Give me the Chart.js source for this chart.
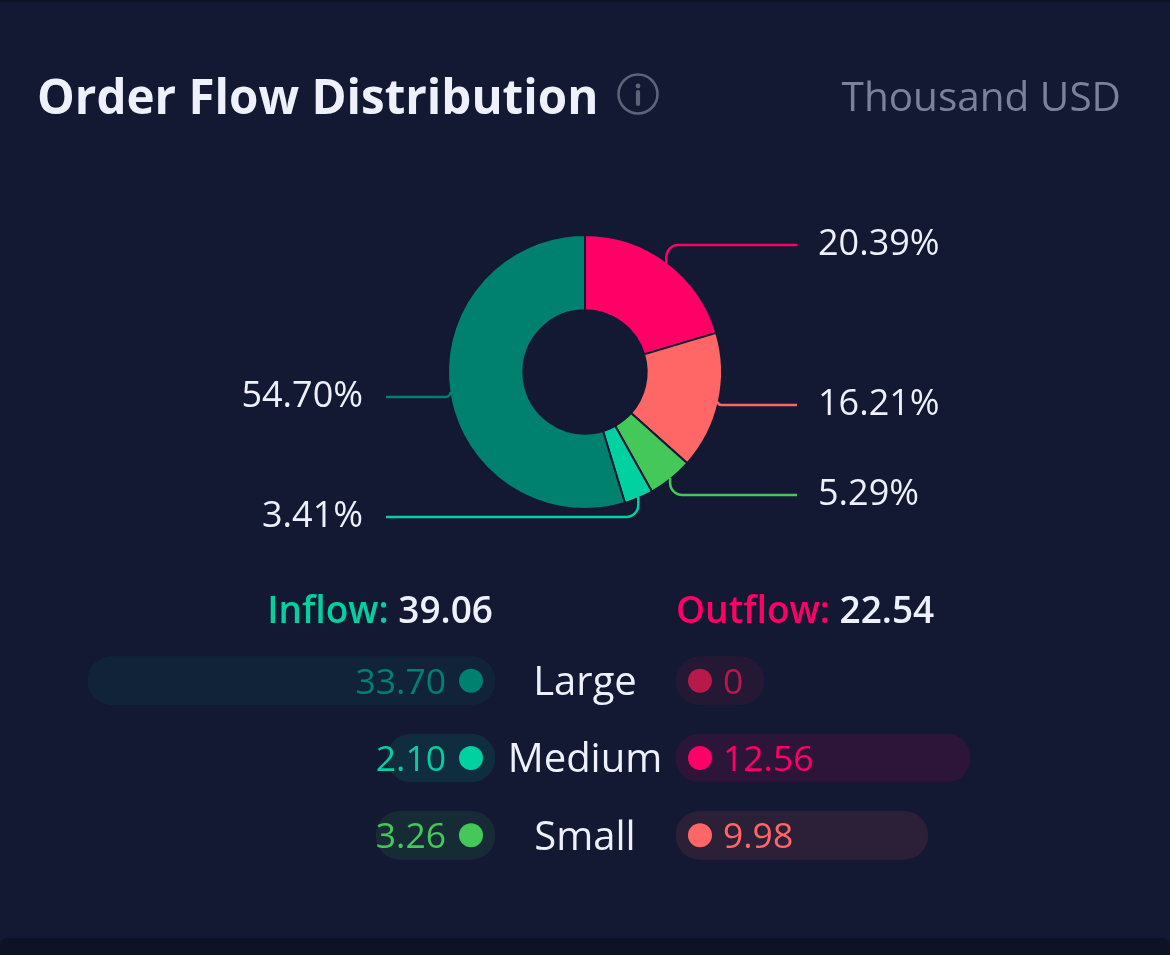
<!DOCTYPE html>
<html><head><meta charset="utf-8">
<script src="https://cdn.jsdelivr.net/npm/chart.js@4.4.0/dist/chart.umd.min.js"></script>
<style>
html,body{margin:0;padding:0;}
body{width:1170px;height:955px;background:#131833;position:relative;overflow:hidden;font-family:"Open Sans",sans-serif;}
.t{position:absolute;white-space:nowrap;}
#topline{position:absolute;left:0;top:0;width:1170px;height:2px;background:#0e1226;}
#bottom{position:absolute;left:0;top:938px;width:1170px;height:20px;background:#0d1224;border-radius:8px 8px 0 0;}
#title{left:37px;top:66px;line-height:60px;font-size:47.5px;font-weight:700;color:#eef1fa;}
#info{position:absolute;left:616px;top:72px;}
#unit{right:49px;top:68px;line-height:56px;font-size:40.5px;font-weight:400;color:#7b8199;}
#inflowHead{right:677px;top:586px;line-height:46px;font-size:37px;font-weight:600;color:#eef1fa;}
#outflowHead{left:676px;top:586px;line-height:46px;font-size:37px;font-weight:600;color:#eef1fa;}
.rowlab{position:absolute;left:485px;width:200px;text-align:center;font-size:40px;line-height:50px;color:#eef1fa;}
canvas{position:absolute;}
#donut{left:0;top:0;}
#barsL{left:37px;top:642px;}
#barsR{left:676px;top:642px;}
</style>
</head><body>
<div id="topline"></div>
<canvas id="donut" width="1170" height="955"></canvas>
<canvas id="barsL" width="458" height="232"></canvas>
<canvas id="barsR" width="458" height="232"></canvas>
<div class="t" id="title">Order Flow Distribution</div>
<svg id="info" width="44" height="44" viewBox="0 0 44 44">
  <circle cx="22" cy="22" r="19.5" fill="none" stroke="#5e6377" stroke-width="2.6"/>
  <circle cx="22" cy="14" r="2.4" fill="#5e6377"/>
  <line x1="22" y1="20" x2="22" y2="32" stroke="#5e6377" stroke-width="4.2" stroke-linecap="round"/>
</svg>
<div class="t" id="unit">Thousand USD</div>
<div class="t" id="inflowHead"></div>
<div class="t" id="outflowHead"></div>
<div id="rows"></div>
<div id="bottom"></div>
<script>
// ---- data ----
const categories = ['Large', 'Medium', 'Small'];
const inflow = [33.70, 2.10, 3.26];
const outflow = [0, 12.56, 9.98];
const inflowPct = [54.70, 3.41, 5.29];
const outflowPct = [0, 20.39, 16.21];
const inflowColors = ['#00806f', '#00d1a0', '#44c85a'];
const outflowColors = ['#b8194b', '#ff0066', '#ff6666'];

const BG = '#131833';
const WHITE = '#eef1fa';
const sum = a => a.reduce((s, v) => s + v, 0);
const inflowTotal = sum(inflow);
const outflowTotal = sum(outflow);

document.getElementById('inflowHead').innerHTML =
  '<span style="color:#00d1a0">Inflow:</span> ' + inflowTotal.toFixed(2);
document.getElementById('outflowHead').innerHTML =
  '<span style="color:#ff0066">Outflow:</span> ' + outflowTotal.toFixed(2);
const rowCenters = [681, 758, 836];
document.getElementById('rows').innerHTML = categories.map((c, i) =>
  '<div class="rowlab" style="top:' + (rowCenters[i] - 26) + 'px">' + c + '</div>').join('');

function hexA(hex, a) {
  const n = parseInt(hex.slice(1), 16);
  return 'rgba(' + (n >> 16) + ',' + ((n >> 8) & 255) + ',' + (n & 255) + ',' + a + ')';
}

// ---- doughnut: clockwise from top: outflow L, M, S then inflow S, M, L ----
const donutValues = [outflow[0], outflow[1], outflow[2], inflow[2], inflow[1], inflow[0]];
const donutPct = [outflowPct[0], outflowPct[1], outflowPct[2], inflowPct[2], inflowPct[1], inflowPct[0]];
const donutColors = [outflowColors[0], outflowColors[1], outflowColors[2], inflowColors[2], inflowColors[1], inflowColors[0]];
const donutLabelY = [null, 245, 405, 495, 517, 397];
const donutLabelRight = [true, true, true, true, false, false];

const leaderPlugin = {
  id: 'leaders',
  afterDatasetsDraw(chart) {
    const ctx = chart.ctx;
    const meta = chart.getDatasetMeta(0);
    ctx.save();
    meta.data.forEach((arc, i) => {
      const v = donutValues[i];
      if (!v) return;
      const p = arc.getProps(['x', 'y', 'startAngle', 'endAngle', 'outerRadius'], true);
      const a = (p.startAngle + p.endAngle) / 2;
      const px = p.x + Math.cos(a) * (p.outerRadius - 1);
      const py = p.y + Math.sin(a) * (p.outerRadius - 1);
      const ly = donutLabelY[i];
      const right = donutLabelRight[i];
      const endX = right ? 797 : 386;
      const r = Math.min(12, Math.abs(ly - py));
      ctx.strokeStyle = donutColors[i];
      ctx.lineWidth = 2.5;
      ctx.beginPath();
      ctx.moveTo(px, py);
      if (r > 0.5) ctx.arcTo(px, ly, endX, ly, r);
      ctx.lineTo(endX, ly);
      ctx.stroke();
      ctx.fillStyle = WHITE;
      ctx.font = '400 36px "Open Sans"';
      ctx.textBaseline = 'middle';
      ctx.textAlign = right ? 'left' : 'right';
      ctx.fillText(donutPct[i].toFixed(2) + '%', right ? 818 : 363, ly);
    });
    ctx.restore();
  }
};

new Chart(document.getElementById('donut'), {
  type: 'doughnut',
  data: {
    labels: ['Outflow Large', 'Outflow Medium', 'Outflow Small', 'Inflow Small', 'Inflow Medium', 'Inflow Large'],
    datasets: [{
      data: donutValues,
      backgroundColor: donutColors,
      borderColor: BG,
      borderWidth: 2,
      hoverOffset: 0
    }]
  },
  options: {
    responsive: false,
    animation: false,
    cutout: '45%',
    layout: { padding: { left: 447, right: 447, top: 234, bottom: 445 } },
    plugins: { legend: { display: false }, tooltip: { enabled: false } },
    events: []
  },
  plugins: [leaderPlugin]
});

// ---- pills ----
const minShare = 88 / 370; // pill minimum length in share units
function pillPlugin(values, colors, leftSide) {
  return {
    id: 'pillText',
    afterDatasetsDraw(chart) {
      const ctx = chart.ctx;
      const meta = chart.getDatasetMeta(0);
      ctx.save();
      ctx.font = '400 35.5px "Open Sans"';
      ctx.textBaseline = 'middle';
      meta.data.forEach((bar, i) => {
        const p = bar.getProps(['x', 'y', 'base'], true);
        const dir = leftSide ? -1 : 1;
        ctx.fillStyle = colors[i];
        ctx.beginPath();
        ctx.arc(p.base + dir * 24, p.y, 12, 0, Math.PI * 2);
        ctx.fill();
        ctx.textAlign = leftSide ? 'right' : 'left';
        const txt = values[i] === 0 ? '0' : values[i].toFixed(2);
        ctx.fillText(txt, p.base + dir * (leftSide ? 49 : 47), p.y + 3);
      });
      ctx.restore();
    }
  };
}

function pillChart(id, values, colors, leftSide) {
  const total = sum(values);
  new Chart(document.getElementById(id), {
    type: 'bar',
    data: {
      labels: categories,
      datasets: [{
        data: values.map(v => v / total),
        base: -minShare,
        backgroundColor: colors.map(c => hexA(c, 0.11)),
        borderRadius: 24,
        borderSkipped: false,
        barThickness: 48
      }]
    },
    options: {
      indexAxis: 'y',
      responsive: false,
      animation: false,
      layout: { padding: 0 },
      scales: {
        x: { display: false, min: -minShare, max: 1, reverse: leftSide },
        y: { display: false }
      },
      plugins: { legend: { display: false }, tooltip: { enabled: false } },
      events: []
    },
    plugins: [pillPlugin(values, colors, leftSide)]
  });
}
pillChart('barsL', inflow, inflowColors, true);
pillChart('barsR', outflow, outflowColors, false);
</script>
</body></html>
